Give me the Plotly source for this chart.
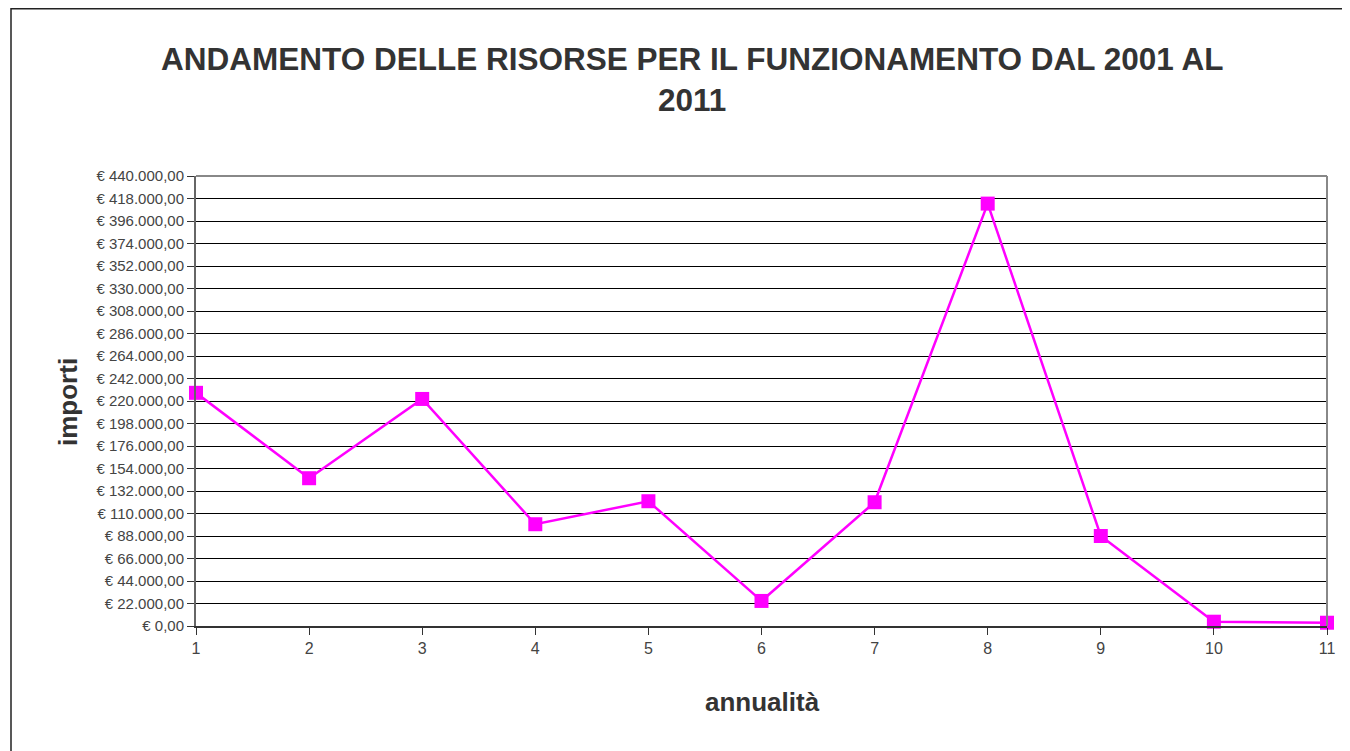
import plotly.graph_objects as go

years = [1, 2, 3, 4, 5, 6, 7, 8, 9, 10, 11]
importi = [228000, 144500, 222000, 99500, 122000, 24500, 121000, 413000, 88000, 4200, 3200]
ytick_vals = list(range(0, 440001, 22000))
ytick_text = ["€ " + f"{v:,.2f}".replace(",", "X").replace(".", ",").replace("X", ".") for v in ytick_vals]

W, H = 1350, 751
OFF = 8  # page body margin
L, R, T, B = 196 - OFF, 23 + OFF, 176 - OFF, 125 + OFF
pw, ph = W - L - R, H - T - B

def px(x):
    return (x - OFF - L) / pw

def py(y):
    return (H - B - (y - OFF)) / ph

fig = go.Figure()
fig.add_trace(go.Scatter(
    x=years, y=importi, mode="lines+markers",
    line=dict(color="#FF00FF", width=2.5),
    marker=dict(symbol="square", size=14, color="#FF00FF"),
    showlegend=False, cliponaxis=False,
))

fig.update_layout(
    width=W, height=H,
    margin=dict(l=L, r=R, t=T, b=B),
    paper_bgcolor="white", plot_bgcolor="white",
    xaxis=dict(range=[1, 11], tickvals=years, ticktext=[str(y) for y in years],
               showgrid=False, zeroline=False, showline=True, linecolor="#333333", linewidth=1.5,
               ticks="outside", ticklen=7, tickcolor="#333333",
               tickfont=dict(family="Liberation Sans Narrow, Arial Narrow, Liberation Sans", size=16, color="#444444")),
    yaxis=dict(range=[0, 440000], tickvals=ytick_vals, ticktext=ytick_text,
               showgrid=True, gridcolor="#000000", gridwidth=1, zeroline=False,
               showline=True, linecolor="#666666", linewidth=2,
               ticks="outside", ticklen=7, tickcolor="#333333",
               tickfont=dict(family="Liberation Sans Narrow, Arial Narrow, Liberation Sans", size=15, color="#444444")),
    annotations=[
        dict(text="ANDAMENTO DELLE RISORSE PER IL FUNZIONAMENTO DAL 2001 AL<br>2011",
             xref="paper", yref="paper", x=px(692), y=py(79),
             xanchor="center", yanchor="middle", showarrow=False,
             font=dict(family="Liberation Sans, Arial", size=31.5, color="#333333", weight="bold")),
        dict(text="annualità", xref="paper", yref="paper", x=px(762), y=py(702),
             xanchor="center", yanchor="middle", showarrow=False,
             font=dict(family="Liberation Sans, Arial", size=26, color="#333333", weight="bold")),
        dict(text="importi", xref="paper", yref="paper", x=px(68), y=py(402),
             xanchor="center", yanchor="middle", showarrow=False, textangle=-90,
             font=dict(family="Liberation Sans, Arial", size=26, color="#333333", weight="bold")),
    ],
    shapes=[
        dict(type="line", xref="paper", yref="paper", x0=0, x1=1, y0=1, y1=1,
             line=dict(color="#888888", width=2)),
        dict(type="line", xref="paper", yref="paper", x0=1, x1=1, y0=0, y1=1,
             line=dict(color="#888888", width=2)),
        dict(type="rect", xref="paper", yref="paper", x0=px(11), x1=px(1380), y0=py(8.8), y1=py(800),
             line=dict(color="#222222", width=1.5), fillcolor="rgba(0,0,0,0)"),
    ],
)

fig.write_html("out.html")
